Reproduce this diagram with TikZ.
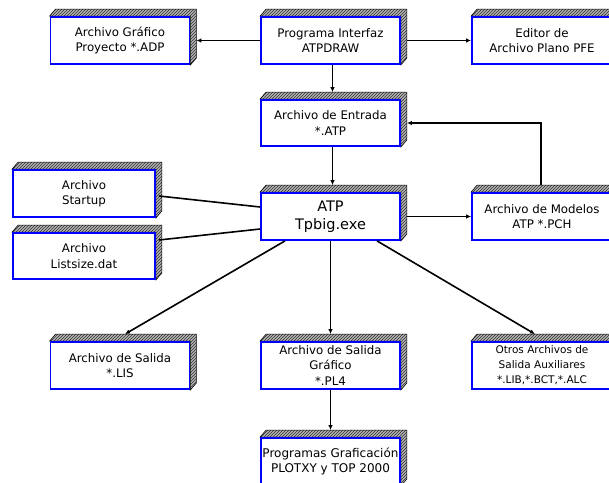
\documentclass[tikz,border=0pt]{standalone}
\usepackage{fontspec}
\setmainfont{DejaVu Sans}
\usetikzlibrary{arrows.meta,patterns}
\tikzset{
  box/.style={draw=blue, line width=1.8pt, fill=white, minimum width=139pt, minimum height=47pt,
    align=center, inner sep=1pt, font=\fontsize{11.8}{15.5}\selectfont, text=black},
  ext/.style={draw=black, line width=0.6pt, preaction={fill=gray!60}, pattern=north east lines, pattern color=black!80},
  con/.style={draw=black, line width=1.6pt},
  thin/.style={draw=black, line width=0.9pt},
  arr/.style={-{Latex[length=5pt,width=4.5pt]}}
}
\begin{document}
\begin{tikzpicture}[x=1pt,y=-1pt]
\useasboundingbox (0,0) rectangle (609,482);
\fill[white] (0,0) rectangle (609,482);
% nodes (define geometry)
\path
 (120,40.5) node[box] (graf) {Archivo Gráfico\\Proyecto *.ADP}
 (330.5,40.5) node[box] (interfaz) {Programa Interfaz\\ATPDRAW}
 (542,40.5) node[box, minimum width=140pt] (editor) {Editor de\\Archivo Plano PFE}
 (330.5,123) node[box, minimum height=46pt] (entrada) {Archivo de Entrada\\*.ATP}
 (84,193.5) node[box, minimum width=142pt] (startup) {Archivo\\Startup}
 (84,256) node[box, minimum width=142pt, minimum height=46pt] (listsize) {Archivo\\Listsize.dat}
 (330.5,216.5) node[box, font=\fontsize{14.5}{18}\selectfont] (atp) {ATP\\Tpbig.exe}
 (542,216.5) node[box, minimum width=140pt] (modelos) {Archivo de Modelos\\ATP *.PCH}
 (120,365.5) node[box] (lis) {Archivo de Salida\\*.LIS}
 (330.5,365.5) node[box] (pl4) {Archivo de Salida\\Gráfico\\*.PL4}
 (542,365.5) node[box, minimum width=140pt, font=\fontsize{10.5}{15}\selectfont] (otros) {Otros Archivos de\\Salida Auxiliares\\*.LIB,*.BCT,*.ALC}
 (330.5,461.5) node[box, font=\fontsize{12}{15.5}\selectfont] (prog) {Programas Graficación\\PLOTXY y TOP 2000};
% extrusions
\foreach \n in {graf,interfaz,editor,entrada,startup,listsize,atp,modelos,lis,pl4,otros,prog}{
  \path[ext] (\n.north west) -- ([xshift=6pt,yshift=7pt]\n.north west) -- ([xshift=6pt,yshift=7pt]\n.north east)
    -- ([xshift=6pt,yshift=7pt]\n.south east) -- (\n.south east) -- (\n.north east) -- cycle;
}
% redraw fronts over extrusions
\path
 (120,40.5) node[box] {Archivo Gráfico\\Proyecto *.ADP}
 (330.5,40.5) node[box] {Programa Interfaz\\ATPDRAW}
 (542,40.5) node[box, minimum width=140pt] {Editor de\\Archivo Plano PFE}
 (330.5,123) node[box, minimum height=46pt] {Archivo de Entrada\\*.ATP}
 (84,193.5) node[box, minimum width=142pt] {Archivo\\Startup}
 (84,256) node[box, minimum width=142pt, minimum height=46pt] {Archivo\\Listsize.dat}
 (330.5,216.5) node[box, font=\fontsize{14.5}{18}\selectfont] {ATP\\Tpbig.exe}
 (542,216.5) node[box, minimum width=140pt] {Archivo de Modelos\\ATP *.PCH}
 (120,365.5) node[box] {Archivo de Salida\\*.LIS}
 (330.5,365.5) node[box] {Archivo de Salida\\Gráfico\\*.PL4}
 (542,365.5) node[box, minimum width=140pt, font=\fontsize{10.5}{15}\selectfont] {Otros Archivos de\\Salida Auxiliares\\*.LIB,*.BCT,*.ALC}
 (330.5,461.5) node[box, font=\fontsize{12}{15.5}\selectfont] {Programas Graficación\\PLOTXY y TOP 2000};
% connectors
\draw[con,arr] (interfaz.west) -- ([xshift=6pt]graf.east);
\draw[con,arr] ([xshift=6pt]interfaz.east) -- (editor.west);
\draw[thin,arr] ([xshift=2pt]interfaz.south) -- ([xshift=2pt,yshift=7pt]entrada.north);
\draw[thin,arr] ([xshift=2pt]entrada.south) -- ([xshift=2pt,yshift=7pt]atp.north);
\draw[con,arr] ([xshift=-1pt,yshift=7pt]modelos.north) |- ([xshift=6pt]entrada.east);
\draw[thin,arr] ([xshift=6pt]atp.east) -- (modelos.west);
\draw[con] ([xshift=3pt,yshift=-2.5pt]startup.east) -- ([yshift=9.5pt]atp.west);
\draw[con] ([xshift=3pt,yshift=16pt]listsize.east) -- ([yshift=-12.5pt]atp.west);
\draw[con,arr] ([xshift=-45.5pt]atp.south) -- ([xshift=5pt,yshift=7pt]lis.north);
\draw[con,arr] (atp.south) -- ([yshift=7pt]pl4.north);
\draw[con,arr] ([xshift=46.5pt]atp.south) -- ([xshift=-7pt,yshift=7pt]otros.north);
\draw[con,arr] (pl4.south) -- ([yshift=7pt]prog.north);
\end{tikzpicture}
\end{document}
